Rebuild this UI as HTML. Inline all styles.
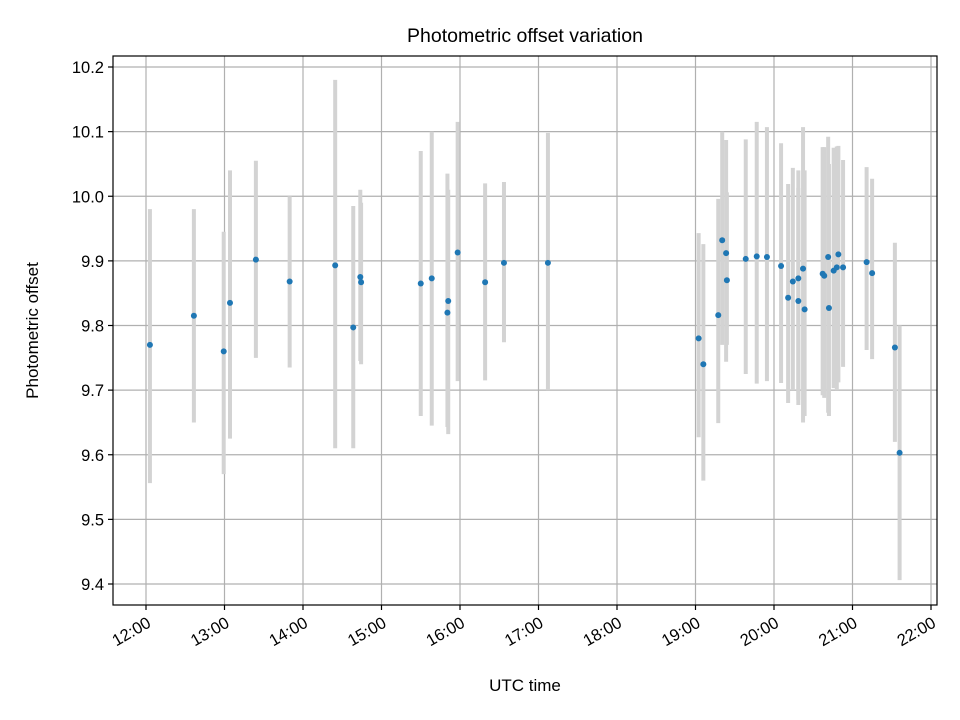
<!DOCTYPE html>
<html><head><meta charset="utf-8"><style>
body{margin:0;background:#fff;}
svg{display:block;font-family:"Liberation Sans","DejaVu Sans",sans-serif;}
</style></head><body>
<svg id="chart" width="960" height="720" viewBox="0 0 960 720" xmlns="http://www.w3.org/2000/svg"></svg>
<script>
const times=[12.05,12.61,12.99,13.07,13.40,13.83,14.41,14.64,14.73,14.74,15.50,15.64,15.85,15.84,15.97,16.32,16.56,17.12,19.04,19.10,19.29,19.34,19.39,19.40,19.64,19.78,19.91,20.09,20.18,20.24,20.31,20.31,20.37,20.39,20.62,20.64,20.69,20.70,20.76,20.80,20.82,20.88,21.18,21.25,21.54,21.60];
const offsets=[9.77,9.815,9.76,9.835,9.902,9.868,9.893,9.797,9.875,9.867,9.865,9.873,9.838,9.82,9.913,9.867,9.897,9.897,9.78,9.74,9.816,9.932,9.912,9.87,9.903,9.907,9.906,9.892,9.843,9.868,9.873,9.838,9.888,9.825,9.88,9.877,9.906,9.827,9.885,9.89,9.91,9.89,9.898,9.881,9.766,9.603];
const upper=[9.98,9.98,9.945,10.04,10.055,10.0,10.18,9.985,10.01,9.99,10.07,10.1,10.01,10.035,10.115,10.02,10.022,10.098,9.943,9.926,9.996,10.10,10.087,10.006,10.088,10.115,10.107,10.082,10.019,10.044,10.04,10.013,10.107,10.04,10.076,10.076,10.092,10.05,10.075,10.077,10.078,10.056,10.045,10.027,9.928,9.80];
const lower=[9.556,9.65,9.57,9.625,9.75,9.735,9.61,9.61,9.745,9.74,9.66,9.645,9.632,9.643,9.714,9.715,9.774,9.7,9.627,9.56,9.649,9.77,9.744,9.77,9.725,9.71,9.714,9.711,9.68,9.70,9.685,9.677,9.65,9.66,9.692,9.688,9.665,9.66,9.703,9.70,9.712,9.736,9.762,9.748,9.62,9.406];
const xTicks=[12,13,14,15,16,17,18,19,20,21,22];
const xTickLabels=["12:00","13:00","14:00","15:00","16:00","17:00","18:00","19:00","20:00","21:00","22:00"];
const yTicks=[9.4,9.5,9.6,9.7,9.8,9.9,10.0,10.1,10.2];
const yTickLabels=["9.4","9.5","9.6","9.7","9.8","9.9","10.0","10.1","10.2"];

const NS="http://www.w3.org/2000/svg";
const svg=document.getElementById('chart');
const L=113,R=937,T=56,B=605;
const xs=h=>146+(h-12)*78.5;
const ys=v=>584-(v-9.4)*646.25;
function mk(tag,attrs,parent){const e=document.createElementNS(NS,tag);for(const k in attrs)e.setAttribute(k,attrs[k]);(parent||svg).appendChild(e);return e;}

const grid=mk('g',{});


xTicks.forEach(t=>{const l=mk('line',{x1:xs(t),x2:xs(t),y1:T,y2:B,stroke:'#b0b0b0','stroke-width':1.2},grid);

});
yTicks.forEach(t=>{const l=mk('line',{x1:L,x2:R,y1:ys(t),y2:ys(t),stroke:'#b0b0b0','stroke-width':1.2},grid);

});

const eb=mk('g',{});


times.forEach((t,i)=>{const l=mk('line',{x1:xs(t),x2:xs(t),y1:ys(upper[i]),y2:ys(lower[i]),stroke:'#d3d3d3','stroke-width':4},eb);

});
const pts=mk('g',{});


times.forEach((t,i)=>{const c=mk('circle',{cx:xs(t),cy:ys(offsets[i]),r:3,fill:'#1f77b4'},pts);

});

const frame=mk('rect',{x:L,y:T,width:R-L,height:B-T,fill:'none',stroke:'#000','stroke-width':1.2});



xTicks.forEach((t,i)=>{const x=xs(t);
const tk=mk('line',{x1:x,x2:x,y1:B,y2:B+5,stroke:'#000','stroke-width':1.2});


const ax=x+6, ay=B+21;
const tx=mk('text',{x:ax,y:ay,'font-size':16.5,'text-anchor':'end',transform:`rotate(-30 ${ax} ${ay})`});
tx.textContent=xTickLabels[i];

});
yTicks.forEach((t,i)=>{const y=ys(t);
const tk=mk('line',{x1:L-5,x2:L,y1:y,y2:y,stroke:'#000','stroke-width':1.2});


const tx=mk('text',{x:L-9,y:y+6,'font-size':16.5,'text-anchor':'end'});
tx.textContent=yTickLabels[i];

});

const title=mk('text',{x:(L+R)/2,y:42,'font-size':19.5,'text-anchor':'middle'});
title.textContent='Photometric offset variation';


const xl=mk('text',{x:(L+R)/2,y:691,'font-size':17,'text-anchor':'middle'});
xl.textContent='UTC time';


const yl=mk('text',{x:38,y:(T+B)/2,'font-size':17,'text-anchor':'middle',transform:`rotate(-90 38 ${(T+B)/2})`});
yl.textContent='Photometric offset';


</script>
</body></html>
